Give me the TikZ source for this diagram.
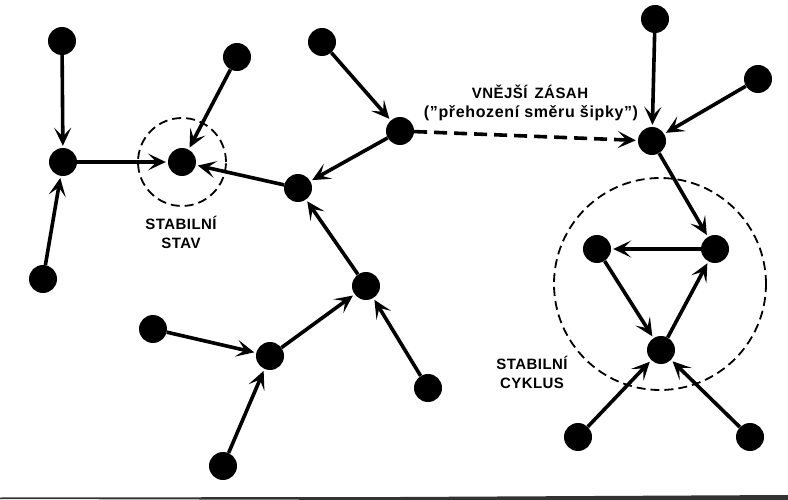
\documentclass[tikz,border=0pt]{standalone}
\usepackage{fontspec}
\setmainfont{Liberation Sans}
\usetikzlibrary{arrows.meta}
\begin{document}
\begin{tikzpicture}[x=1pt,y=-1pt,
  dot/.style={circle,fill=black,inner sep=0pt,minimum size=28pt},
  link/.style={line width=3.6pt,-{Stealth[length=18pt,width=17pt,inset=8.5pt]},shorten >=2pt},
  jump/.style={link,dash pattern=on 13pt off 7pt},
  zone/.style={draw,line width=1.8pt,dash pattern=on 9pt off 5pt},
  caption/.style={font=\bfseries\fontsize{15}{19}\selectfont,align=center,inner sep=0pt}]
\useasboundingbox (0,0) rectangle (788,500);
\fill[white] (0,0) rectangle (788,500);

% states drifting into the fixed point
\node[dot] (a1) at (62,41) {};
\node[dot] (a2) at (63,162) {};
\node[dot] (a3) at (43,279) {};
\node[dot] (s)  at (182,162) {};
\node[dot] (b)  at (237,57) {};
\node[dot] (c)  at (298,188) {};
\node[dot] (d)  at (322,42) {};
\node[dot] (e)  at (400,131) {};
\node[dot] (f)  at (366,286) {};
\node[dot] (g)  at (270,356) {};
\node[dot] (h)  at (153,329) {};
\node[dot] (i)  at (223,466) {};
\node[dot] (j)  at (428,388) {};

% states drifting into the cycle
\node[dot] (k) at (655,19) {};
\node[dot] (l) at (758,79) {};
\node[dot] (m) at (652,141) {};
\node[dot] (n) at (715,249) {};
\node[dot] (o) at (597,249) {};
\node[dot] (p) at (661,350) {};
\node[dot] (q) at (578,437) {};
\node[dot] (r) at (750,437) {};

% attractor regions
\draw[zone] (s) circle[radius=44pt];
\draw[zone] (660,284) circle[radius=106pt];

% transitions
\draw[link] (a1) -- (a2);
\draw[link] (a3) -- (a2);
\draw[link] (a2) -- (s);
\draw[link] (b) -- (s);
\draw[link] (c) -- (s);
\draw[link] (d) -- (e);
\draw[link] (e) -- (c);
\draw[link] (f) -- (c);
\draw[link] (g) -- (f);
\draw[link] (h) -- (g);
\draw[link] (i) -- (g);
\draw[link] (j) -- (f);

\draw[link] (k) -- (m);
\draw[link] (l) -- (m);
\draw[link] (m) -- (n);
\draw[link] (n) -- (o);
\draw[link] (o) -- (p);
\draw[link] (p) -- (n);
\draw[link] (q) -- (p);
\draw[link] (r) -- (p);

% external intervention
\draw[jump] (e) -- (m);

% labels
\node[caption] (t1) at (181,232) {\addfontfeature{LetterSpace=3}STABILNÍ\\\addfontfeature{LetterSpace=3}STAV};
\node[caption] (t2) at (530,92) {\addfontfeature{LetterSpace=3}VNĚJŠÍ\, ZÁSAH};
\node[caption,font=\bfseries\fontsize{16}{19}\selectfont] (t3) at (531,113) {\addfontfeature{LetterSpace=4}(\symbol{34}přehození směru šipky\symbol{34})};
\node[caption] (t4) at (532,372) {\addfontfeature{LetterSpace=3}STABILNÍ\\\addfontfeature{LetterSpace=3}CYKLUS};

% edge of the page below
\fill[black!80] (0,497.5) -- (400,497) -- (788,495) -- (788,500) -- (400,500) -- (0,499) -- cycle;
\end{tikzpicture}
\end{document}
